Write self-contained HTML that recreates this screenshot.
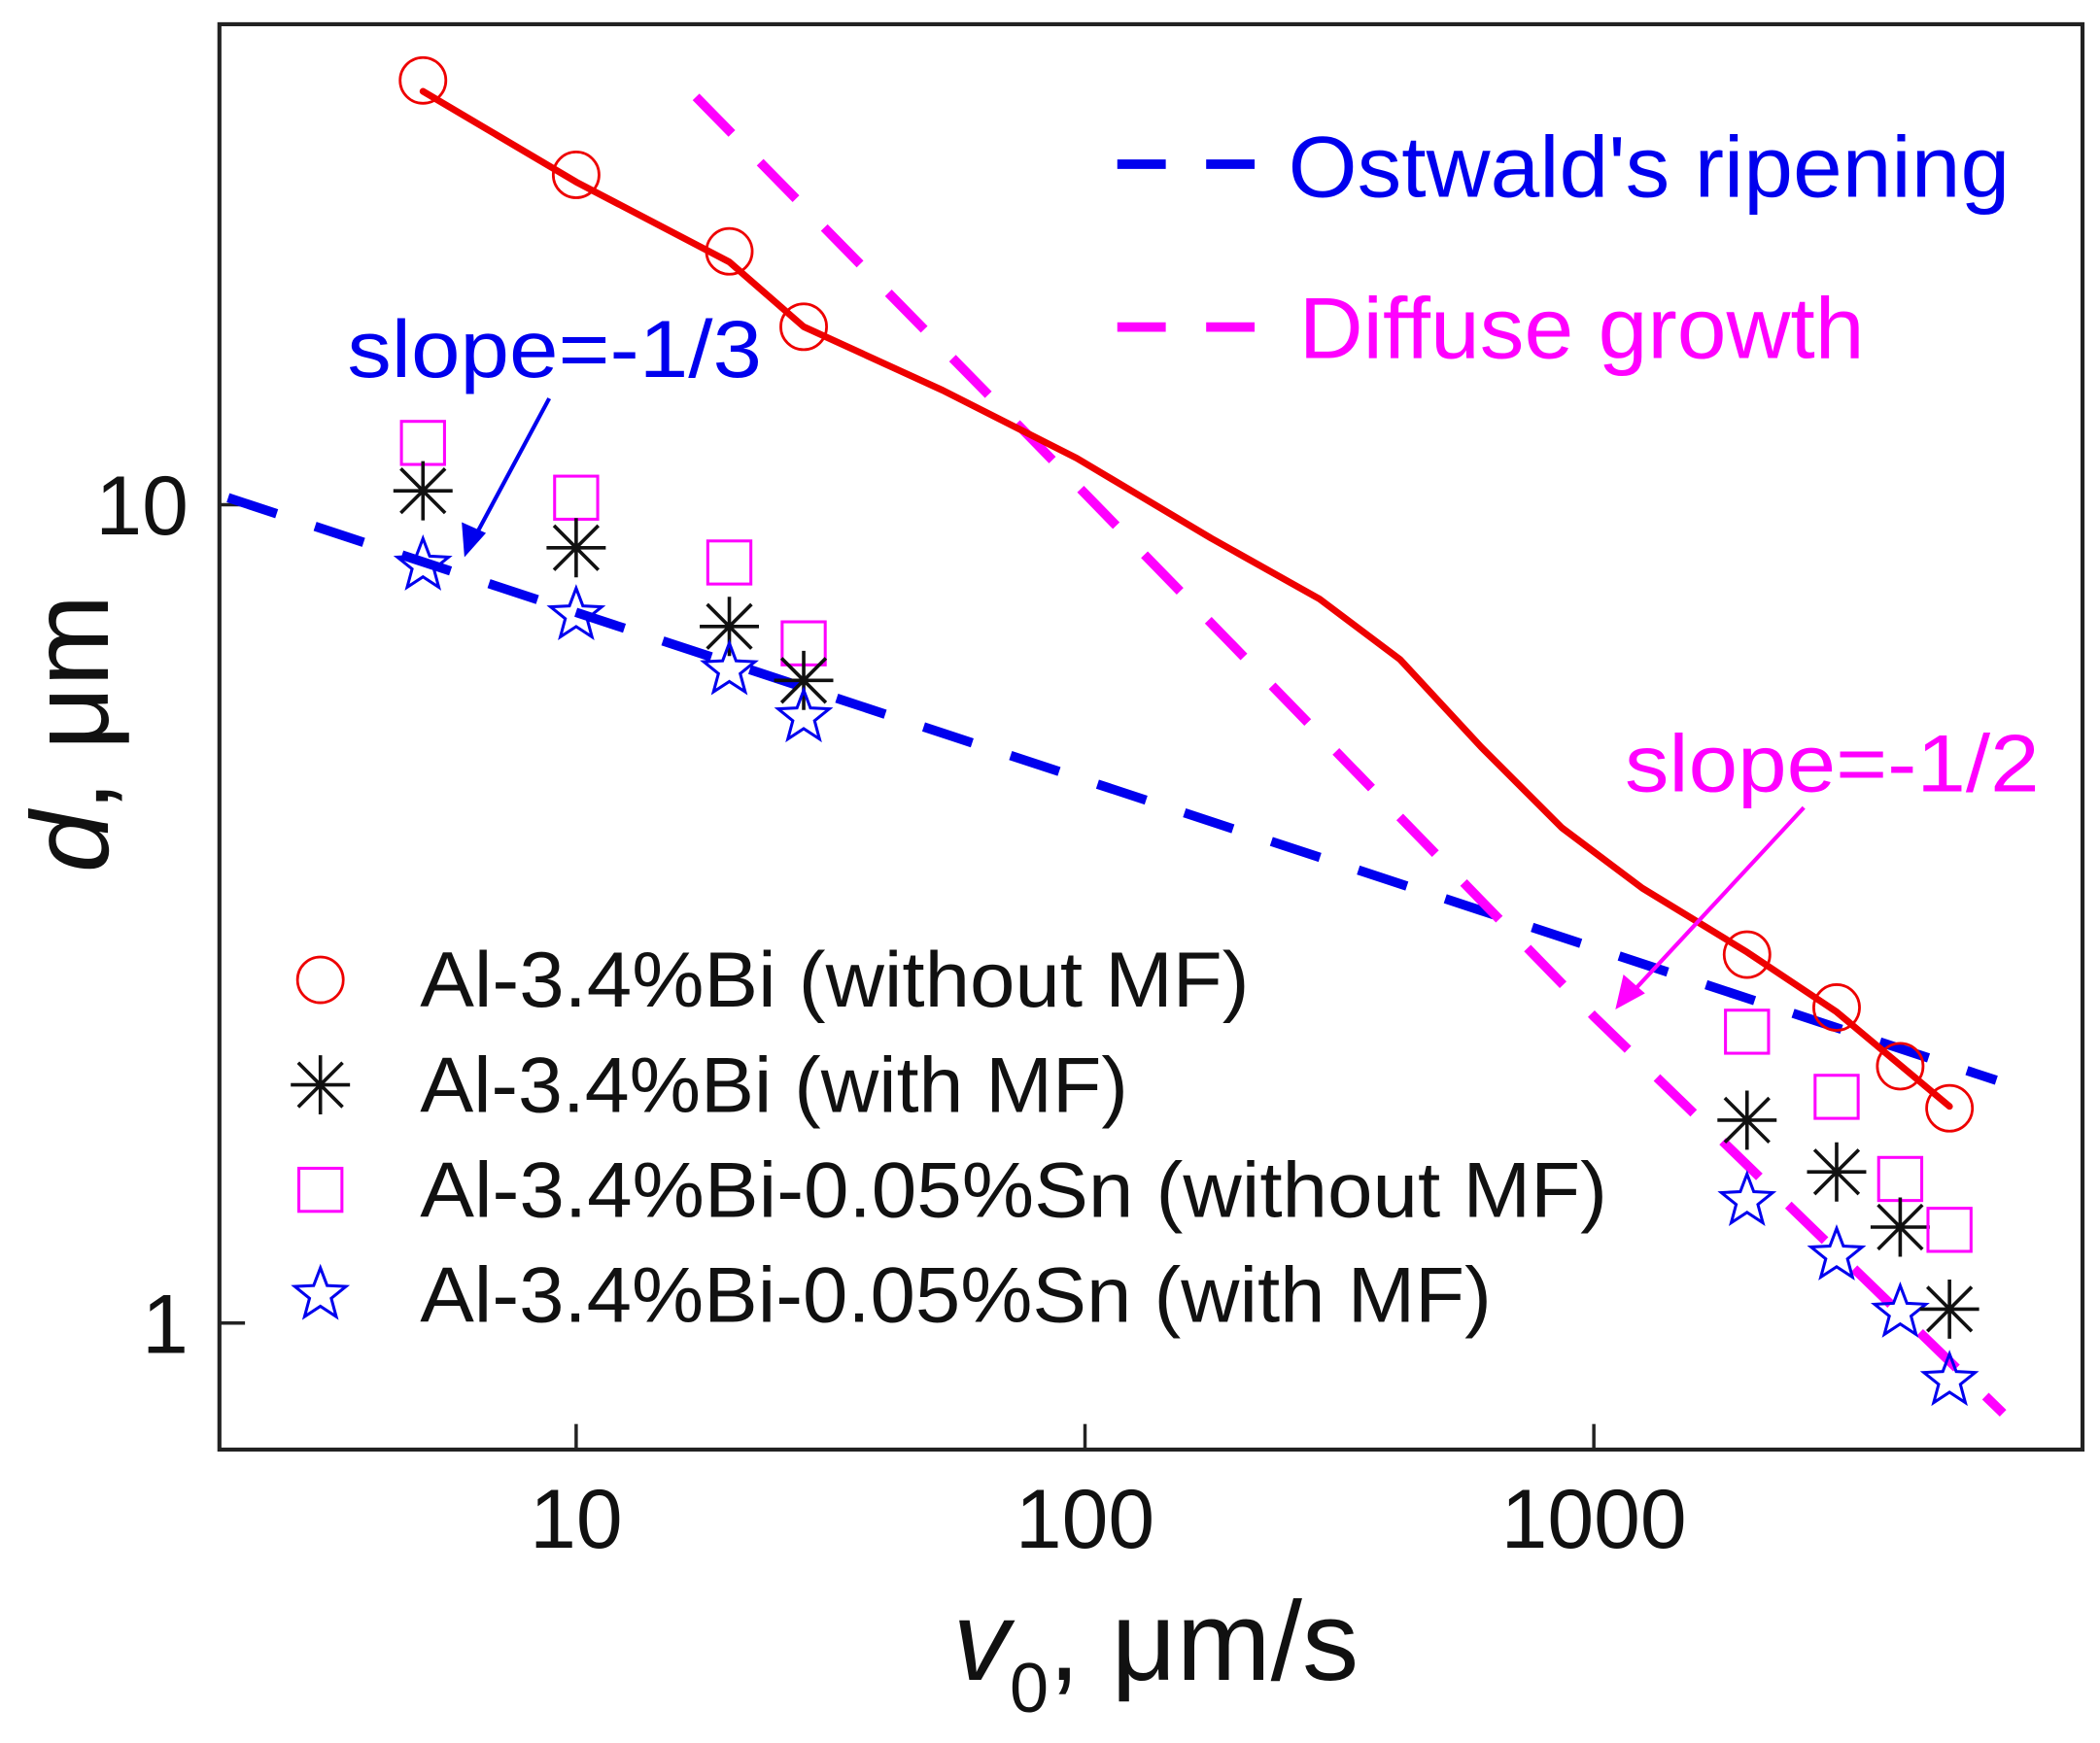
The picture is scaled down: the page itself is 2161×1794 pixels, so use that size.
<!DOCTYPE html>
<html><head><meta charset="utf-8"><style>
html,body{margin:0;padding:0;background:#fff}
svg{display:block}
text{font-family:"Liberation Sans",Arial,sans-serif}
</style></head><body>
<svg id="chart" xmlns="http://www.w3.org/2000/svg" width="2161" height="1794" viewBox="0 0 1560 1295" preserveAspectRatio="none">
<rect x="163" y="18" width="1384" height="1059" fill="none" stroke="#222" stroke-width="3"/>
<g id="axes"></g>
<g id="lines"></g>
<g id="marks"></g>
<g>
<line x1="830" y1="122" x2="942" y2="122" stroke="#0000ee" stroke-width="7" stroke-dasharray="36,30"/>
<text x="957" y="146" font-size="64" fill="#0000ee" textLength="536" lengthAdjust="spacingAndGlyphs">Ostwald's ripening</text>
<line x1="830" y1="243" x2="942" y2="243" stroke="#ff00ff" stroke-width="7" stroke-dasharray="36,30"/>
<text x="965" y="266" font-size="64" fill="#ff00ff" textLength="420" lengthAdjust="spacingAndGlyphs">Diffuse growth</text>
</g>
<text x="258" y="280" font-size="60" fill="#0000ee" textLength="308" lengthAdjust="spacingAndGlyphs">slope=-1/3</text>
<line x1="408" y1="296" x2="350" y2="404" stroke="#0000ee" stroke-width="3"/>
<polygon points="345,414 343,388 361,396" fill="#0000ee"/>
<text x="1207" y="588" font-size="60" fill="#ff00ff" textLength="308" lengthAdjust="spacingAndGlyphs">slope=-1/2</text>
<line x1="1340" y1="600" x2="1210" y2="740" stroke="#ff00ff" stroke-width="3"/>
<polygon points="1200,750 1206,724 1222,738" fill="#ff00ff"/>
<g font-size="58" fill="#111">
<text x="312" y="748" textLength="616" lengthAdjust="spacingAndGlyphs">Al-3.4%Bi (without MF)</text>
<text x="312" y="826" textLength="526" lengthAdjust="spacingAndGlyphs">Al-3.4%Bi (with MF)</text>
<text x="312" y="904" textLength="882" lengthAdjust="spacingAndGlyphs">Al-3.4%Bi-0.05%Sn (without MF)</text>
<text x="312" y="982" textLength="796" lengthAdjust="spacingAndGlyphs">Al-3.4%Bi-0.05%Sn (with MF)</text>
</g>
<text transform="translate(80,545) rotate(-90)" text-anchor="middle" font-size="82" fill="#111"><tspan font-style="italic">d</tspan>,  μm</text>
<text x="708" y="1248" font-size="84" fill="#111"><tspan font-style="italic">v</tspan><tspan font-size="52" dy="24">0</tspan><tspan dy="-24">,  μm/s</tspan></text>
</svg>
<script>
const xTicks=[10,100,1000];
const xTickLabels=["10","100","1000"];
const yTicks=[1,10];
const yTickLabels=["1","10"];
const xs=[5,10,20,28,2000,3000,4000,5000];
const biWithout=[33,25.3,20.4,16.5,2.82,2.43,2.06,1.83];
const biWith=[10.4,8.86,7.1,6.1,1.77,1.53,1.31,1.04];
const snWithout=[11.9,10.2,8.5,6.77,2.27,1.89,1.50,1.30];
const snWith=[8.43,7.33,6.28,5.50,1.41,1.21,1.03,0.85];
const fitX=[5,10,20,28,52.5,96.3,177,289,416,600,865,1245,2000,3000,5000];
const fitY=[32,24.8,19.8,16.5,13.8,11.4,9.10,7.67,6.47,5.06,4.03,3.40,2.84,2.40,1.84];
const ostX=[2.07,6180];
const ostY=[10.2,1.98];
const difX=[17.2,80,1000,6370];
const difY=[31.5,11.9,2.37,0.776];

const NS="http://www.w3.org/2000/svg";
function X(v){return 428+(Math.log10(v)-1)*378;}
function Y(v){return 983-Math.log10(v)*608;}
function mk(tag,attrs,parent){const e=document.createElementNS(NS,tag);for(const k in attrs)e.setAttribute(k,attrs[k]);document.getElementById(parent).appendChild(e);return e;}

xTicks.forEach((t,i)=>{
  const l=mk('line',{x1:X(t),x2:X(t),y1:1077,y2:1058,stroke:'#222','stroke-width':2.5},'axes');
  
  
  const tx=mk('text',{x:X(t),y:1150,'text-anchor':'middle','font-size':62,fill:'#111'},'axes');
  tx.textContent=xTickLabels[i];
  
  
});
yTicks.forEach((t,i)=>{
  const l=mk('line',{x1:163,x2:182,y1:Y(t),y2:Y(t),stroke:'#222','stroke-width':2.5},'axes');
  
  
  const tx=mk('text',{x:140,y:Y(t)+22,'text-anchor':'end','font-size':62,fill:'#111'},'axes');
  tx.textContent=yTickLabels[i];
  
  
});
function pts(a,b){return a.map((v,i)=>X(v)+','+Y(b[i])).join(' ');}
const o=mk('polyline',{points:pts(ostX,ostY),fill:'none',stroke:'#0000ee','stroke-width':7,'stroke-dasharray':'38,30'},'lines');


const d=mk('polyline',{points:pts(difX,difY),fill:'none',stroke:'#ff00ff','stroke-width':7,'stroke-dasharray':'38,30'},'lines');


const f=mk('polyline',{points:pts(fitX,fitY),fill:'none',stroke:'#ee0000','stroke-width':5,'stroke-linejoin':'round','stroke-linecap':'round'},'lines');



function circle(x,y,p,name){const e=mk('circle',{cx:x,cy:y,r:17,fill:'none',stroke:'#ee0000','stroke-width':2},p);}
function square(x,y,p,name){const e=mk('rect',{x:x-16,y:y-16,width:32,height:32,fill:'none',stroke:'#ff00ff','stroke-width':2.2},p);}
function aster(x,y,p,name){const r=22,q=r*0.75;const e=mk('path',{d:`M${x-r},${y}H${x+r}M${x},${y-r}V${y+r}M${x-q},${y-q}L${x+q},${y+q}M${x-q},${y+q}L${x+q},${y-q}`,stroke:'#111','stroke-width':2.6,fill:'none'},p);}
function star(x,y,p,name){let s='';for(let i=0;i<10;i++){const r=i%2?8.5:20;const a=-Math.PI/2+i*Math.PI/5;s+=(x+r*Math.cos(a))+','+(y+r*Math.sin(a))+' ';}const e=mk('polygon',{points:s,fill:'none',stroke:'#0000ee','stroke-width':2.2},p);}
xs.forEach((v,i)=>{
  square(X(v),Y(snWithout[i]),'marks','point-sn-without');
  aster(X(v),Y(biWith[i]),'marks','point-bi-with');
  star(X(v),Y(snWith[i]),'marks','point-sn-with');
  circle(X(v),Y(biWithout[i]),'marks','point-bi-without');
});
circle(238,728,'marks','legend-marker-bi-without');
aster(238,806,'marks','legend-marker-bi-with');
square(238,884,'marks','legend-marker-sn-without');
star(238,962,'marks','legend-marker-sn-with');
</script>
</body></html>
